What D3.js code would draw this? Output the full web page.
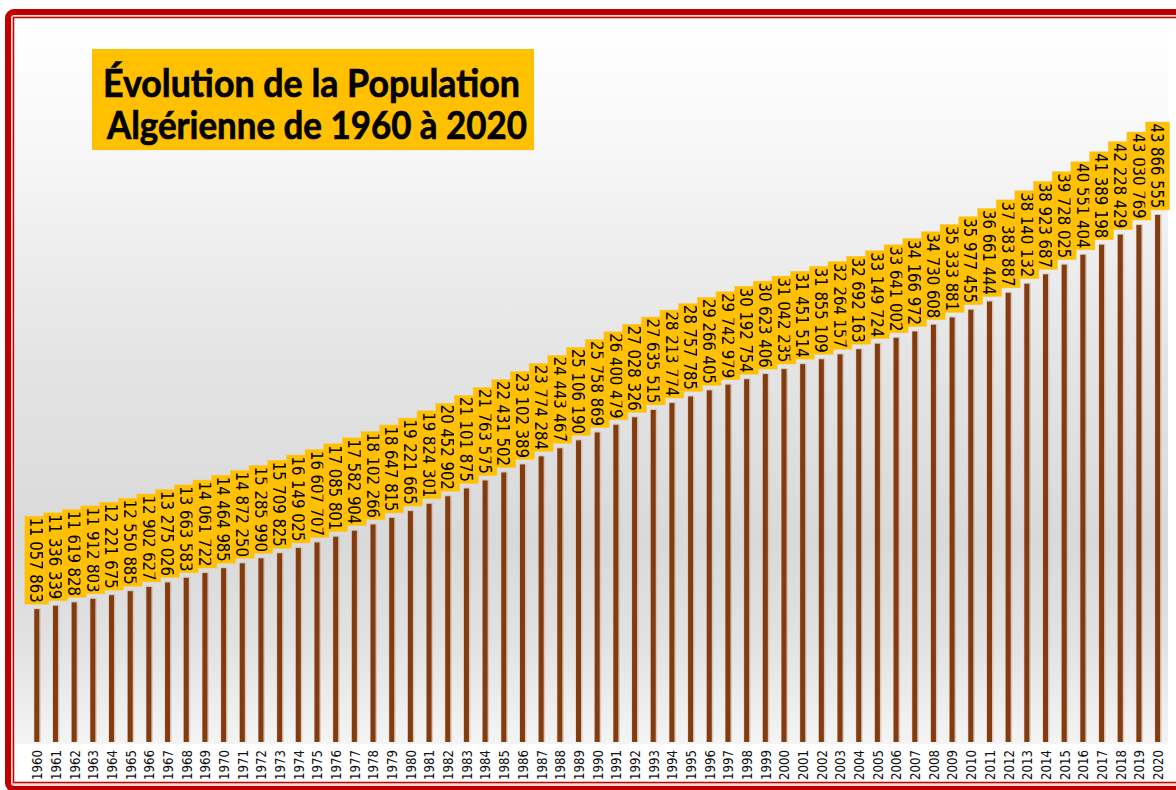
<!DOCTYPE html>
<html><head><meta charset="utf-8">
<script src="https://cdn.jsdelivr.net/npm/d3@7"></script>
<style>html,body{margin:0;padding:0;background:#fff;}svg{display:block;}</style>
</head><body>
<svg id="chart" width="1176" height="790"></svg>
<script>
const years = d3.range(1960, 2021);
const population = [
11057863,11336339,11619828,11912803,12221675,12550885,12902627,13275026,13663583,14061722,
14464985,14872250,15285990,15709825,16149025,16607707,17085801,17582904,18102266,18647815,
19221665,19824301,20452902,21101875,21763575,22431502,23102389,23774284,24443467,25106190,
25758869,26400479,27028326,27635515,28213774,28757785,29266405,29742979,30192754,30623406,
31042235,31451514,31855109,32264157,32692163,33149724,33641002,34166972,34730608,35333881,
35977455,36661444,37383887,38140132,38923687,39728025,40551404,41389198,42228429,43030769,
43866555];
const titleLines = ["Évolution de la Population", "Algérienne de 1960 à 2020"];

const svg = d3.select("#chart");
const defs = svg.append("defs");
const grad = defs.append("linearGradient").attr("id","bg").attr("x1",0).attr("y1",0).attr("x2",0).attr("y2",1);
[[0,"#ffffff"],[0.16,"#f8f8f8"],[0.45,"#e5e5e5"],[0.72,"#d9d9d9"],[0.86,"#e2e2e2"],[1,"#f4f4f4"]]
  .forEach(([o,c])=>grad.append("stop").attr("offset",o).attr("stop-color",c));

// frame
svg.append("rect").attr("x",8).attr("y",12).attr("width",1190).attr("height",777).attr("rx",6)
  .attr("fill","#f3d6d6").attr("stroke","#c00000").attr("stroke-width",6);
svg.append("rect").attr("x",13.5).attr("y",17.5).attr("width",1180).attr("height",765)
  .attr("fill","#ffffff").attr("stroke","#c00000").attr("stroke-width",1.5);
// plot background
svg.append("rect").attr("x",15).attr("y",19).attr("width",1153).attr("height",725).attr("fill","url(#bg)");

const x = d3.scalePoint().domain(years).range([36.8, 1157.6]);
const y = d3.scaleLinear().domain([0, 43866555]).range([742, 215]);
const fmt = d3.formatLocale({decimal:",", thousands:" ", grouping:[3], currency:["","€"]}).format(",d");
const data = years.map((yr,i)=>({year:yr, value:population[i]}));

// bars
svg.append("g").selectAll("rect").data(data).join("rect")
  .attr("x",d=>x(d.year)-3).attr("width",7)
  .attr("y",d=>y(d.value)-1).attr("height",d=>y(0)-y(d.value)+1)
  .attr("fill","#c9b2a6").attr("opacity",0.6);
svg.append("g").selectAll("rect").data(data).join("rect")
  .attr("x",d=>x(d.year)-2.5).attr("width",5)
  .attr("y",d=>y(d.value)).attr("height",d=>y(0)-y(d.value))
  .attr("fill","#843c0c");

// value labels
const lg = svg.append("g").selectAll("g").data(data).join("g")
  .attr("transform",d=>`translate(${x(d.year)},${y(d.value)-5})`);
lg.append("rect").attr("x",-12).attr("y",-88).attr("width",24).attr("height",88)
  .attr("fill","#ffc000").attr("stroke","#f7c850").attr("stroke-width",0.5);
lg.append("text").attr("transform","translate(0,-44) rotate(90)")
  .attr("text-anchor","middle").attr("dy","0.36em")
  .attr("textLength",85).attr("lengthAdjust","spacingAndGlyphs")
  .attr("font-family","DejaVu Sans").attr("font-size",17.5).attr("fill","#000")
  .text(d=>fmt(d.value));

// x axis labels
const xAxis = d3.axisBottom(x).tickSize(0).tickPadding(0);
const ax = svg.append("g").attr("transform","translate(0,750)").call(xAxis);
ax.select(".domain").remove();
ax.selectAll("text").attr("transform","rotate(-90)").attr("text-anchor","end")
  .attr("x",0).attr("y",0).attr("dy","0.36em")
  .attr("textLength",30).attr("lengthAdjust","spacingAndGlyphs")
  .attr("font-family","DejaVu Sans").attr("font-size",13.5).attr("fill","#111");

// title
svg.append("rect").attr("x",92).attr("y",49).attr("width",442).attr("height",101).attr("fill","#ffc000");
const tl = [{x:103,y:97,len:417},{x:107,y:139,len:420}];
svg.selectAll("text.title").data(titleLines).join("text").attr("class","title")
  .attr("x",(d,i)=>tl[i].x).attr("y",(d,i)=>tl[i].y)
  .attr("textLength",(d,i)=>tl[i].len).attr("lengthAdjust","spacingAndGlyphs")
  .attr("font-family","Lato").attr("font-weight","bold").attr("font-size",39).attr("fill","#000")
  .attr("stroke","#000").attr("stroke-width",0.7)
  .text(d=>d);
</script>
</body></html>
